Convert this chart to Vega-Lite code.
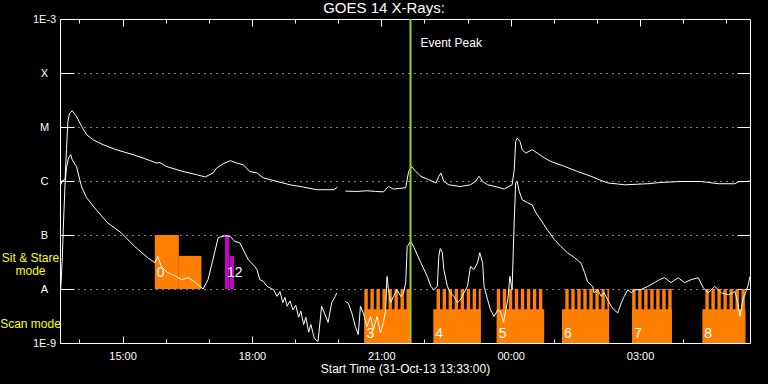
{
  "$schema": "https://vega.github.io/schema/vega-lite/v6.json",
  "width": 690,
  "height": 324,
  "autosize": "none",
  "padding": {"left": 60, "top": 19, "right": 18, "bottom": 41},
  "background": "black",
  "title": {"text": "GOES 14 X-Rays:", "color": "white", "font": "Liberation Sans", "fontSize": 15, "fontWeight": "normal", "anchor": "middle", "frame": "group", "baseline": "bottom", "dx": -21, "offset": -18},
  "config": {
    "view": {"stroke": "white", "strokeWidth": 1},
    "font": "Liberation Sans"
  },
  "resolve": {"axis": {"x": "independent", "y": "independent"}},
  "datasets": {
    "flux": [
      {"t": "2013-10-31T13:34:00Z", "f": 8.5e-7, "s": "L1"},
      {"t": "2013-10-31T13:36:00Z", "f": 1.01e-6, "s": "L1"},
      {"t": "2013-10-31T13:40:00Z", "f": 1.06e-6, "s": "L1"},
      {"t": "2013-10-31T13:42:00Z", "f": 3.8e-6, "s": "L1"},
      {"t": "2013-10-31T13:44:00Z", "f": 1.25e-5, "s": "L1"},
      {"t": "2013-10-31T13:46:00Z", "f": 1.76e-5, "s": "L1"},
      {"t": "2013-10-31T13:50:00Z", "f": 2.0e-5, "s": "L1"},
      {"t": "2013-10-31T13:56:00Z", "f": 1.57e-5, "s": "L1"},
      {"t": "2013-10-31T14:03:00Z", "f": 1.03e-5, "s": "L1"},
      {"t": "2013-10-31T14:10:00Z", "f": 7.2e-6, "s": "L1"},
      {"t": "2013-10-31T14:19:00Z", "f": 5.8e-6, "s": "L1"},
      {"t": "2013-10-31T14:33:00Z", "f": 4.7e-6, "s": "L1"},
      {"t": "2013-10-31T14:51:00Z", "f": 3.8e-6, "s": "L1"},
      {"t": "2013-10-31T15:15:00Z", "f": 3.07e-6, "s": "L1"},
      {"t": "2013-10-31T15:38:00Z", "f": 2.4e-6, "s": "L1"},
      {"t": "2013-10-31T15:47:00Z", "f": 2.15e-6, "s": "L1"},
      {"t": "2013-10-31T15:52:00Z", "f": 2.2e-6, "s": "L1"},
      {"t": "2013-10-31T16:01:00Z", "f": 1.86e-6, "s": "L1"},
      {"t": "2013-10-31T16:24:00Z", "f": 1.5e-6, "s": "L1"},
      {"t": "2013-10-31T16:43:00Z", "f": 1.31e-6, "s": "L1"},
      {"t": "2013-10-31T16:55:00Z", "f": 1.19e-6, "s": "L1"},
      {"t": "2013-10-31T17:06:00Z", "f": 1.41e-6, "s": "L1"},
      {"t": "2013-10-31T17:11:00Z", "f": 1.74e-6, "s": "L1"},
      {"t": "2013-10-31T17:20:00Z", "f": 2.09e-6, "s": "L1"},
      {"t": "2013-10-31T17:30:00Z", "f": 2.38e-6, "s": "L1"},
      {"t": "2013-10-31T17:39:00Z", "f": 2.15e-6, "s": "L1"},
      {"t": "2013-10-31T17:48:00Z", "f": 2.0e-6, "s": "L1"},
      {"t": "2013-10-31T17:57:00Z", "f": 1.5e-6, "s": "L1"},
      {"t": "2013-10-31T18:07:00Z", "f": 1.41e-6, "s": "L1"},
      {"t": "2013-10-31T18:16:00Z", "f": 1.14e-6, "s": "L1"},
      {"t": "2013-10-31T18:35:00Z", "f": 9.8e-7, "s": "L1"},
      {"t": "2013-10-31T18:53:00Z", "f": 8.5e-7, "s": "L1"},
      {"t": "2013-10-31T19:12:00Z", "f": 7.7e-7, "s": "L1"},
      {"t": "2013-10-31T19:30:00Z", "f": 6.9e-7, "s": "L1"},
      {"t": "2013-10-31T19:54:00Z", "f": 6.9e-7, "s": "L1"},
      {"t": "2013-10-31T19:59:00Z", "f": 7.7e-7, "s": "L1"},
      {"t": "2013-10-31T20:10:00Z", "f": 6.5e-7, "s": "L2"},
      {"t": "2013-10-31T20:26:00Z", "f": 6.4e-7, "s": "L2"},
      {"t": "2013-10-31T20:40:00Z", "f": 6.6e-7, "s": "L2"},
      {"t": "2013-10-31T20:52:00Z", "f": 6.4e-7, "s": "L2"},
      {"t": "2013-10-31T21:03:00Z", "f": 6.3e-7, "s": "L2"},
      {"t": "2013-10-31T21:10:00Z", "f": 7.9e-7, "s": "L2"},
      {"t": "2013-10-31T21:17:00Z", "f": 7.1e-7, "s": "L2"},
      {"t": "2013-10-31T21:34:00Z", "f": 7.5e-7, "s": "L2"},
      {"t": "2013-10-31T21:38:00Z", "f": 1.49e-6, "s": "L2"},
      {"t": "2013-10-31T21:42:00Z", "f": 1.86e-6, "s": "L2"},
      {"t": "2013-10-31T21:48:00Z", "f": 1.5e-6, "s": "L2"},
      {"t": "2013-10-31T21:55:00Z", "f": 1.22e-6, "s": "L2"},
      {"t": "2013-10-31T22:06:00Z", "f": 1.06e-6, "s": "L2"},
      {"t": "2013-10-31T22:16:00Z", "f": 9.2e-7, "s": "L2"},
      {"t": "2013-10-31T22:20:00Z", "f": 1.22e-6, "s": "L2"},
      {"t": "2013-10-31T22:23:00Z", "f": 1.41e-6, "s": "L2"},
      {"t": "2013-10-31T22:27:00Z", "f": 9.8e-7, "s": "L2"},
      {"t": "2013-10-31T22:34:00Z", "f": 8.5e-7, "s": "L2"},
      {"t": "2013-10-31T22:50:00Z", "f": 7.9e-7, "s": "L2"},
      {"t": "2013-10-31T23:04:00Z", "f": 8.5e-7, "s": "L2"},
      {"t": "2013-10-31T23:11:00Z", "f": 9.8e-7, "s": "L2"},
      {"t": "2013-10-31T23:16:00Z", "f": 1.22e-6, "s": "L2"},
      {"t": "2013-10-31T23:21:00Z", "f": 9.8e-7, "s": "L2"},
      {"t": "2013-10-31T23:28:00Z", "f": 8.5e-7, "s": "L2"},
      {"t": "2013-10-31T23:42:00Z", "f": 7.7e-7, "s": "L2"},
      {"t": "2013-10-31T23:51:00Z", "f": 7.1e-7, "s": "L2"},
      {"t": "2013-11-01T00:02:00Z", "f": 8.5e-7, "s": "L2"},
      {"t": "2013-11-01T00:05:00Z", "f": 1.62e-6, "s": "L2"},
      {"t": "2013-11-01T00:07:00Z", "f": 5.4e-6, "s": "L2"},
      {"t": "2013-11-01T00:09:00Z", "f": 6.25e-6, "s": "L2"},
      {"t": "2013-11-01T00:13:00Z", "f": 5.4e-6, "s": "L2"},
      {"t": "2013-11-01T00:16:00Z", "f": 3.8e-6, "s": "L2"},
      {"t": "2013-11-01T00:21:00Z", "f": 3.3e-6, "s": "L2"},
      {"t": "2013-11-01T00:30:00Z", "f": 3.8e-6, "s": "L2"},
      {"t": "2013-11-01T00:37:00Z", "f": 3.3e-6, "s": "L2"},
      {"t": "2013-11-01T00:47:00Z", "f": 2.67e-6, "s": "L2"},
      {"t": "2013-11-01T00:56:00Z", "f": 2.3e-6, "s": "L2"},
      {"t": "2013-11-01T01:15:00Z", "f": 1.86e-6, "s": "L2"},
      {"t": "2013-11-01T01:33:00Z", "f": 1.5e-6, "s": "L2"},
      {"t": "2013-11-01T01:52:00Z", "f": 1.22e-6, "s": "L2"},
      {"t": "2013-11-01T02:03:00Z", "f": 1.06e-6, "s": "L2"},
      {"t": "2013-11-01T02:15:00Z", "f": 9.2e-7, "s": "L2"},
      {"t": "2013-11-01T02:29:00Z", "f": 8.8e-7, "s": "L2"},
      {"t": "2013-11-01T02:38:00Z", "f": 8.5e-7, "s": "L2"},
      {"t": "2013-11-01T03:11:00Z", "f": 8.9e-7, "s": "L2"},
      {"t": "2013-11-01T03:29:00Z", "f": 9.4e-7, "s": "L2"},
      {"t": "2013-11-01T03:57:00Z", "f": 9.8e-7, "s": "L2"},
      {"t": "2013-11-01T04:25:00Z", "f": 9.8e-7, "s": "L2"},
      {"t": "2013-11-01T04:35:00Z", "f": 9.4e-7, "s": "L2"},
      {"t": "2013-11-01T04:49:00Z", "f": 8.9e-7, "s": "L2"},
      {"t": "2013-11-01T05:12:00Z", "f": 8.9e-7, "s": "L2"},
      {"t": "2013-11-01T05:17:00Z", "f": 9.7e-7, "s": "L2"},
      {"t": "2013-11-01T05:30:00Z", "f": 9.8e-7, "s": "L2"},
      {"t": "2013-11-01T05:33:00Z", "f": 1.0e-6, "s": "L2"},
      {"t": "2013-10-31T13:34:00Z", "f": 1.0e-8, "s": "S1"},
      {"t": "2013-10-31T13:36:00Z", "f": 3.2e-8, "s": "S1"},
      {"t": "2013-10-31T13:38:00Z", "f": 1.9e-7, "s": "S1"},
      {"t": "2013-10-31T13:40:00Z", "f": 8.5e-7, "s": "S1"},
      {"t": "2013-10-31T13:42:00Z", "f": 1.76e-6, "s": "S1"},
      {"t": "2013-10-31T13:45:00Z", "f": 2.7e-6, "s": "S1"},
      {"t": "2013-10-31T13:48:00Z", "f": 3.07e-6, "s": "S1"},
      {"t": "2013-10-31T13:50:00Z", "f": 2.48e-6, "s": "S1"},
      {"t": "2013-10-31T13:56:00Z", "f": 1.84e-6, "s": "S1"},
      {"t": "2013-10-31T14:03:00Z", "f": 7.8e-7, "s": "S1"},
      {"t": "2013-10-31T14:10:00Z", "f": 4.9e-7, "s": "S1"},
      {"t": "2013-10-31T14:21:00Z", "f": 3.2e-7, "s": "S1"},
      {"t": "2013-10-31T14:39:00Z", "f": 1.69e-7, "s": "S1"},
      {"t": "2013-10-31T14:58:00Z", "f": 1.1e-7, "s": "S1"},
      {"t": "2013-10-31T15:17:00Z", "f": 6.1e-8, "s": "S1"},
      {"t": "2013-10-31T15:35:00Z", "f": 3.8e-8, "s": "S1"},
      {"t": "2013-10-31T15:45:00Z", "f": 3.07e-8, "s": "S1"},
      {"t": "2013-10-31T15:49:00Z", "f": 4.0e-8, "s": "S1"},
      {"t": "2013-10-31T15:54:00Z", "f": 2.6e-8, "s": "S1"},
      {"t": "2013-10-31T16:03:00Z", "f": 2.0e-8, "s": "S1"},
      {"t": "2013-10-31T16:13:00Z", "f": 1.76e-8, "s": "S1"},
      {"t": "2013-10-31T16:22:00Z", "f": 1.49e-8, "s": "S1"},
      {"t": "2013-10-31T16:31:00Z", "f": 1.62e-8, "s": "S1"},
      {"t": "2013-10-31T16:38:00Z", "f": 1.42e-8, "s": "S1"},
      {"t": "2013-10-31T16:48:00Z", "f": 1.12e-8, "s": "S1"},
      {"t": "2013-10-31T16:52:00Z", "f": 1.0e-8, "s": "S1"},
      {"t": "2013-10-31T16:59:00Z", "f": 1.49e-8, "s": "S1"},
      {"t": "2013-10-31T17:09:00Z", "f": 5.3e-8, "s": "S1"},
      {"t": "2013-10-31T17:13:00Z", "f": 8.9e-8, "s": "S1"},
      {"t": "2013-10-31T17:23:00Z", "f": 9.7e-8, "s": "S1"},
      {"t": "2013-10-31T17:30:00Z", "f": 9.4e-8, "s": "S1"},
      {"t": "2013-10-31T17:36:00Z", "f": 7.6e-8, "s": "S1"},
      {"t": "2013-10-31T17:43:00Z", "f": 7.2e-8, "s": "S1"},
      {"t": "2013-10-31T17:55:00Z", "f": 3.5e-8, "s": "S1"},
      {"t": "2013-10-31T18:04:00Z", "f": 2.6e-8, "s": "S1"},
      {"t": "2013-10-31T18:07:00Z", "f": 2.3e-8, "s": "S1"},
      {"t": "2013-10-31T18:11:00Z", "f": 1.49e-8, "s": "S1"},
      {"t": "2013-10-31T18:16:00Z", "f": 1.38e-8, "s": "S1"},
      {"t": "2013-10-31T18:21:00Z", "f": 1.12e-8, "s": "S1"},
      {"t": "2013-10-31T18:30:00Z", "f": 9.7e-9, "s": "S1"},
      {"t": "2013-10-31T18:35:00Z", "f": 7.3e-9, "s": "S1"},
      {"t": "2013-10-31T18:39:00Z", "f": 9.0e-9, "s": "S1"},
      {"t": "2013-10-31T18:43:00Z", "f": 5.6e-9, "s": "S1"},
      {"t": "2013-10-31T18:46:00Z", "f": 7.0e-9, "s": "S1"},
      {"t": "2013-10-31T18:49:00Z", "f": 4.8e-9, "s": "S1"},
      {"t": "2013-10-31T18:53:00Z", "f": 6.0e-9, "s": "S1"},
      {"t": "2013-10-31T18:57:00Z", "f": 4.1e-9, "s": "S1"},
      {"t": "2013-10-31T19:01:00Z", "f": 5.0e-9, "s": "S1"},
      {"t": "2013-10-31T19:05:00Z", "f": 3.0e-9, "s": "S1"},
      {"t": "2013-10-31T19:08:00Z", "f": 3.9e-9, "s": "S1"},
      {"t": "2013-10-31T19:12:00Z", "f": 2.2e-9, "s": "S1"},
      {"t": "2013-10-31T19:15:00Z", "f": 3.0e-9, "s": "S1"},
      {"t": "2013-10-31T19:19:00Z", "f": 1.6e-9, "s": "S1"},
      {"t": "2013-10-31T19:22:00Z", "f": 2.2e-9, "s": "S1"},
      {"t": "2013-10-31T19:27:00Z", "f": 1.2e-9, "s": "S1"},
      {"t": "2013-10-31T19:32:00Z", "f": 1.07e-9, "s": "S1"},
      {"t": "2013-10-31T19:37:00Z", "f": 4.8e-9, "s": "S1"},
      {"t": "2013-10-31T19:42:00Z", "f": 3.3e-9, "s": "S1"},
      {"t": "2013-10-31T19:46:00Z", "f": 2.4e-9, "s": "S1"},
      {"t": "2013-10-31T19:51:00Z", "f": 5.6e-9, "s": "S1"},
      {"t": "2013-10-31T19:56:00Z", "f": 7.3e-9, "s": "S1"},
      {"t": "2013-10-31T19:58:00Z", "f": 8.5e-9, "s": "S1"},
      {"t": "2013-10-31T20:10:00Z", "f": 5.9e-9, "s": "S2"},
      {"t": "2013-10-31T20:14:00Z", "f": 5.5e-9, "s": "S2"},
      {"t": "2013-10-31T20:19:00Z", "f": 3.6e-9, "s": "S2"},
      {"t": "2013-10-31T20:24:00Z", "f": 2.0e-9, "s": "S2"},
      {"t": "2013-10-31T20:28:00Z", "f": 1.43e-9, "s": "S2"},
      {"t": "2013-10-31T20:31:00Z", "f": 4.8e-9, "s": "S2"},
      {"t": "2013-10-31T20:35:00Z", "f": 3.6e-9, "s": "S2"},
      {"t": "2013-10-31T20:40:00Z", "f": 2.0e-9, "s": "S2"},
      {"t": "2013-10-31T20:45:00Z", "f": 3.1e-9, "s": "S2"},
      {"t": "2013-10-31T20:49:00Z", "f": 1.76e-9, "s": "S2"},
      {"t": "2013-10-31T20:54:00Z", "f": 3.1e-9, "s": "S2"},
      {"t": "2013-10-31T20:59:00Z", "f": 1.53e-9, "s": "S2"},
      {"t": "2013-10-31T21:03:00Z", "f": 2.4e-9, "s": "S2"},
      {"t": "2013-10-31T21:06:00Z", "f": 4.1e-9, "s": "S2"},
      {"t": "2013-10-31T21:08:00Z", "f": 1.71e-8, "s": "S2"},
      {"t": "2013-10-31T21:10:00Z", "f": 9.7e-9, "s": "S2"},
      {"t": "2013-10-31T21:13:00Z", "f": 5.6e-9, "s": "S2"},
      {"t": "2013-10-31T21:17:00Z", "f": 7.3e-9, "s": "S2"},
      {"t": "2013-10-31T21:22:00Z", "f": 9.7e-9, "s": "S2"},
      {"t": "2013-10-31T21:27:00Z", "f": 7.3e-9, "s": "S2"},
      {"t": "2013-10-31T21:31:00Z", "f": 8.4e-9, "s": "S2"},
      {"t": "2013-10-31T21:34:00Z", "f": 1.31e-8, "s": "S2"},
      {"t": "2013-10-31T21:36:00Z", "f": 6.1e-8, "s": "S2"},
      {"t": "2013-10-31T21:41:00Z", "f": 7.6e-8, "s": "S2"},
      {"t": "2013-10-31T21:45:00Z", "f": 6.1e-8, "s": "S2"},
      {"t": "2013-10-31T21:50:00Z", "f": 4.3e-8, "s": "S2"},
      {"t": "2013-10-31T21:55:00Z", "f": 3.07e-8, "s": "S2"},
      {"t": "2013-10-31T22:04:00Z", "f": 1.71e-8, "s": "S2"},
      {"t": "2013-10-31T22:09:00Z", "f": 1.12e-8, "s": "S2"},
      {"t": "2013-10-31T22:13:00Z", "f": 9.7e-9, "s": "S2"},
      {"t": "2013-10-31T22:18:00Z", "f": 1.12e-8, "s": "S2"},
      {"t": "2013-10-31T22:20:00Z", "f": 4.0e-8, "s": "S2"},
      {"t": "2013-10-31T22:22:00Z", "f": 5.6e-8, "s": "S2"},
      {"t": "2013-10-31T22:25:00Z", "f": 4.7e-8, "s": "S2"},
      {"t": "2013-10-31T22:27:00Z", "f": 2.3e-8, "s": "S2"},
      {"t": "2013-10-31T22:32:00Z", "f": 1.12e-8, "s": "S2"},
      {"t": "2013-10-31T22:36:00Z", "f": 8.5e-9, "s": "S2"},
      {"t": "2013-10-31T22:41:00Z", "f": 7.3e-9, "s": "S2"},
      {"t": "2013-10-31T22:46:00Z", "f": 5.6e-9, "s": "S2"},
      {"t": "2013-10-31T22:50:00Z", "f": 6.3e-9, "s": "S2"},
      {"t": "2013-10-31T22:55:00Z", "f": 8.5e-9, "s": "S2"},
      {"t": "2013-10-31T23:00:00Z", "f": 1.12e-8, "s": "S2"},
      {"t": "2013-10-31T23:04:00Z", "f": 2.6e-8, "s": "S2"},
      {"t": "2013-10-31T23:09:00Z", "f": 2.3e-8, "s": "S2"},
      {"t": "2013-10-31T23:14:00Z", "f": 3.07e-8, "s": "S2"},
      {"t": "2013-10-31T23:17:00Z", "f": 4.7e-8, "s": "S2"},
      {"t": "2013-10-31T23:21:00Z", "f": 3.07e-8, "s": "S2"},
      {"t": "2013-10-31T23:23:00Z", "f": 1.12e-8, "s": "S2"},
      {"t": "2013-10-31T23:28:00Z", "f": 6.3e-9, "s": "S2"},
      {"t": "2013-10-31T23:32:00Z", "f": 4.1e-9, "s": "S2"},
      {"t": "2013-10-31T23:37:00Z", "f": 3.1e-9, "s": "S2"},
      {"t": "2013-10-31T23:42:00Z", "f": 4.1e-9, "s": "S2"},
      {"t": "2013-10-31T23:46:00Z", "f": 3.8e-9, "s": "S2"},
      {"t": "2013-10-31T23:50:00Z", "f": 2.4e-9, "s": "S2"},
      {"t": "2013-10-31T23:56:00Z", "f": 6.3e-9, "s": "S2"},
      {"t": "2013-10-31T23:59:00Z", "f": 1.71e-8, "s": "S2"},
      {"t": "2013-11-01T00:02:00Z", "f": 9.7e-9, "s": "S2"},
      {"t": "2013-11-01T00:05:00Z", "f": 1.9e-7, "s": "S2"},
      {"t": "2013-11-01T00:07:00Z", "f": 9.3e-7, "s": "S2"},
      {"t": "2013-11-01T00:09:00Z", "f": 9.8e-7, "s": "S2"},
      {"t": "2013-11-01T00:12:00Z", "f": 6.4e-7, "s": "S2"},
      {"t": "2013-11-01T00:16:00Z", "f": 4.5e-7, "s": "S2"},
      {"t": "2013-11-01T00:23:00Z", "f": 4.0e-7, "s": "S2"},
      {"t": "2013-11-01T00:30:00Z", "f": 3.6e-7, "s": "S2"},
      {"t": "2013-11-01T00:35:00Z", "f": 2.6e-7, "s": "S2"},
      {"t": "2013-11-01T00:42:00Z", "f": 1.9e-7, "s": "S2"},
      {"t": "2013-11-01T00:51:00Z", "f": 1.25e-7, "s": "S2"},
      {"t": "2013-11-01T01:01:00Z", "f": 8.2e-8, "s": "S2"},
      {"t": "2013-11-01T01:10:00Z", "f": 6.1e-8, "s": "S2"},
      {"t": "2013-11-01T01:19:00Z", "f": 4.7e-8, "s": "S2"},
      {"t": "2013-11-01T01:29:00Z", "f": 3.8e-8, "s": "S2"},
      {"t": "2013-11-01T01:38:00Z", "f": 3.0e-8, "s": "S2"},
      {"t": "2013-11-01T01:43:00Z", "f": 2.0e-8, "s": "S2"},
      {"t": "2013-11-01T01:47:00Z", "f": 1.36e-8, "s": "S2"},
      {"t": "2013-11-01T01:54:00Z", "f": 1.12e-8, "s": "S2"},
      {"t": "2013-11-01T01:56:00Z", "f": 8.5e-9, "s": "S2"},
      {"t": "2013-11-01T02:01:00Z", "f": 9.7e-9, "s": "S2"},
      {"t": "2013-11-01T02:06:00Z", "f": 7.3e-9, "s": "S2"},
      {"t": "2013-11-01T02:10:00Z", "f": 8.5e-9, "s": "S2"},
      {"t": "2013-11-01T02:15:00Z", "f": 6.3e-9, "s": "S2"},
      {"t": "2013-11-01T02:20:00Z", "f": 4.8e-9, "s": "S2"},
      {"t": "2013-11-01T02:24:00Z", "f": 4.1e-9, "s": "S2"},
      {"t": "2013-11-01T02:29:00Z", "f": 3.6e-9, "s": "S2"},
      {"t": "2013-11-01T02:34:00Z", "f": 5.6e-9, "s": "S2"},
      {"t": "2013-11-01T02:38:00Z", "f": 7.3e-9, "s": "S2"},
      {"t": "2013-11-01T02:43:00Z", "f": 9.7e-9, "s": "S2"},
      {"t": "2013-11-01T02:48:00Z", "f": 8.5e-9, "s": "S2"},
      {"t": "2013-11-01T02:52:00Z", "f": 9.7e-9, "s": "S2"},
      {"t": "2013-11-01T03:01:00Z", "f": 9.7e-9, "s": "S2"},
      {"t": "2013-11-01T03:11:00Z", "f": 1.12e-8, "s": "S2"},
      {"t": "2013-11-01T03:20:00Z", "f": 1.31e-8, "s": "S2"},
      {"t": "2013-11-01T03:27:00Z", "f": 1.49e-8, "s": "S2"},
      {"t": "2013-11-01T03:34:00Z", "f": 1.62e-8, "s": "S2"},
      {"t": "2013-11-01T03:43:00Z", "f": 1.31e-8, "s": "S2"},
      {"t": "2013-11-01T03:53:00Z", "f": 1.62e-8, "s": "S2"},
      {"t": "2013-11-01T04:02:00Z", "f": 1.31e-8, "s": "S2"},
      {"t": "2013-11-01T04:11:00Z", "f": 1.49e-8, "s": "S2"},
      {"t": "2013-11-01T04:21:00Z", "f": 1.62e-8, "s": "S2"},
      {"t": "2013-11-01T04:28:00Z", "f": 1.05e-8, "s": "S2"},
      {"t": "2013-11-01T04:35:00Z", "f": 8.5e-9, "s": "S2"},
      {"t": "2013-11-01T04:44:00Z", "f": 1.12e-8, "s": "S2"},
      {"t": "2013-11-01T04:53:00Z", "f": 8.5e-9, "s": "S2"},
      {"t": "2013-11-01T05:03:00Z", "f": 7.8e-9, "s": "S2"},
      {"t": "2013-11-01T05:12:00Z", "f": 9.0e-9, "s": "S2"},
      {"t": "2013-11-01T05:16:00Z", "f": 5.6e-9, "s": "S2"},
      {"t": "2013-11-01T05:19:00Z", "f": 3.1e-9, "s": "S2"},
      {"t": "2013-11-01T05:23:00Z", "f": 6.3e-9, "s": "S2"},
      {"t": "2013-11-01T05:30:00Z", "f": 1.12e-8, "s": "S2"},
      {"t": "2013-11-01T05:33:00Z", "f": 1.71e-8, "s": "S2"}
    ],
    "scanBlocks": [
      {"start": "2013-10-31T20:36:29Z", "end": "2013-10-31T21:39:42Z", "n": "3"},
      {"start": "2013-10-31T22:12:21Z", "end": "2013-10-31T23:18:21Z", "n": "4"},
      {"start": "2013-10-31T23:40:40Z", "end": "2013-11-01T00:46:41Z", "n": "5"},
      {"start": "2013-11-01T01:11:22Z", "end": "2013-11-01T02:16:57Z", "n": "6"},
      {"start": "2013-11-01T02:49:03Z", "end": "2013-11-01T03:44:26Z", "n": "7"},
      {"start": "2013-11-01T04:26:43Z", "end": "2013-11-01T05:26:43Z", "n": "8"}
    ],
    "scanStripes": [
      {"start": "2013-10-31T20:36:29Z", "end": "2013-10-31T20:41:14Z"},
      {"start": "2013-10-31T20:44:52Z", "end": "2013-10-31T20:49:36Z"},
      {"start": "2013-10-31T20:53:14Z", "end": "2013-10-31T20:57:58Z"},
      {"start": "2013-10-31T21:01:37Z", "end": "2013-10-31T21:06:21Z"},
      {"start": "2013-10-31T21:09:59Z", "end": "2013-10-31T21:14:43Z"},
      {"start": "2013-10-31T21:18:21Z", "end": "2013-10-31T21:23:05Z"},
      {"start": "2013-10-31T21:26:43Z", "end": "2013-10-31T21:31:28Z"},
      {"start": "2013-10-31T21:35:05Z", "end": "2013-10-31T21:39:42Z"},
      {"start": "2013-10-31T22:16:57Z", "end": "2013-10-31T22:21:41Z"},
      {"start": "2013-10-31T22:25:19Z", "end": "2013-10-31T22:30:04Z"},
      {"start": "2013-10-31T22:33:41Z", "end": "2013-10-31T22:38:26Z"},
      {"start": "2013-10-31T22:42:04Z", "end": "2013-10-31T22:46:49Z"},
      {"start": "2013-10-31T22:50:26Z", "end": "2013-10-31T22:55:11Z"},
      {"start": "2013-10-31T22:58:49Z", "end": "2013-10-31T23:03:33Z"},
      {"start": "2013-10-31T23:07:11Z", "end": "2013-10-31T23:11:55Z"},
      {"start": "2013-10-31T23:15:33Z", "end": "2013-10-31T23:18:21Z"},
      {"start": "2013-10-31T23:40:40Z", "end": "2013-10-31T23:45:25Z"},
      {"start": "2013-10-31T23:49:02Z", "end": "2013-10-31T23:53:47Z"},
      {"start": "2013-10-31T23:57:25Z", "end": "2013-11-01T00:02:09Z"},
      {"start": "2013-11-01T00:05:47Z", "end": "2013-11-01T00:10:32Z"},
      {"start": "2013-11-01T00:14:10Z", "end": "2013-11-01T00:18:54Z"},
      {"start": "2013-11-01T00:22:32Z", "end": "2013-11-01T00:27:16Z"},
      {"start": "2013-11-01T00:30:54Z", "end": "2013-11-01T00:35:38Z"},
      {"start": "2013-11-01T00:39:16Z", "end": "2013-11-01T00:44:01Z"},
      {"start": "2013-11-01T01:15:59Z", "end": "2013-11-01T01:20:43Z"},
      {"start": "2013-11-01T01:24:21Z", "end": "2013-11-01T01:29:05Z"},
      {"start": "2013-11-01T01:32:43Z", "end": "2013-11-01T01:37:28Z"},
      {"start": "2013-11-01T01:41:06Z", "end": "2013-11-01T01:45:50Z"},
      {"start": "2013-11-01T01:49:28Z", "end": "2013-11-01T01:54:13Z"},
      {"start": "2013-11-01T01:57:50Z", "end": "2013-11-01T02:02:35Z"},
      {"start": "2013-11-01T02:06:13Z", "end": "2013-11-01T02:10:57Z"},
      {"start": "2013-11-01T02:14:35Z", "end": "2013-11-01T02:16:57Z"},
      {"start": "2013-11-01T02:49:03Z", "end": "2013-11-01T02:53:47Z"},
      {"start": "2013-11-01T02:57:25Z", "end": "2013-11-01T03:02:10Z"},
      {"start": "2013-11-01T03:05:47Z", "end": "2013-11-01T03:10:32Z"},
      {"start": "2013-11-01T03:14:10Z", "end": "2013-11-01T03:18:55Z"},
      {"start": "2013-11-01T03:22:32Z", "end": "2013-11-01T03:27:17Z"},
      {"start": "2013-11-01T03:30:55Z", "end": "2013-11-01T03:35:39Z"},
      {"start": "2013-11-01T03:39:17Z", "end": "2013-11-01T03:44:01Z"},
      {"start": "2013-11-01T04:30:55Z", "end": "2013-11-01T04:35:39Z"},
      {"start": "2013-11-01T04:39:17Z", "end": "2013-11-01T04:44:01Z"},
      {"start": "2013-11-01T04:47:39Z", "end": "2013-11-01T04:52:23Z"},
      {"start": "2013-11-01T04:56:02Z", "end": "2013-11-01T05:00:46Z"},
      {"start": "2013-11-01T05:04:24Z", "end": "2013-11-01T05:09:08Z"},
      {"start": "2013-11-01T05:12:46Z", "end": "2013-11-01T05:17:31Z"},
      {"start": "2013-11-01T05:21:08Z", "end": "2013-11-01T05:25:53Z"}
    ],
    "sitOrange": [
      {"start": "2013-10-31T15:44:52Z", "end": "2013-10-31T16:18:21Z", "top": 1e-7},
      {"start": "2013-10-31T16:18:21Z", "end": "2013-10-31T16:49:45Z", "top": 4.1e-8}
    ],
    "sitMagenta": [
      {"start": "2013-10-31T17:22:32Z", "end": "2013-10-31T17:28:07Z", "top": 1e-7},
      {"start": "2013-10-31T17:29:31Z", "end": "2013-10-31T17:35:05Z", "top": 4.1e-8}
    ],
    "sitLabels": [
      {"start": "2013-10-31T15:44:52Z", "n": "0"},
      {"start": "2013-10-31T17:22:32Z", "n": "12"}
    ],
    "event": [
      {"t": "2013-10-31T21:40:40Z", "label": "Event Peak"}
    ]
  },
  "layer": [
    {
      "data": {"name": "scanBlocks"},
      "mark": {"type": "rect", "color": "#ff8000"},
      "encoding": {
        "x": {
          "field": "start", "type": "temporal",
          "scale": {"type": "utc", "nice": false, "domain": [{"year": 2013, "month": 10, "date": 31, "hours": 13, "minutes": 33, "utc": true}, {"year": 2013, "month": 11, "date": 1, "hours": 5, "minutes": 33, "utc": true}]},
          "axis": {
            "orient": "bottom",
            "offset": 0,
            "values": [
              {"year": 2013, "month": 10, "date": 31, "hours": 15, "utc": true},
              {"year": 2013, "month": 10, "date": 31, "hours": 18, "utc": true},
              {"year": 2013, "month": 10, "date": 31, "hours": 21, "utc": true},
              {"year": 2013, "month": 11, "date": 1, "hours": 0, "utc": true},
              {"year": 2013, "month": 11, "date": 1, "hours": 3, "utc": true}
            ],
            "format": "%H:%M",
            "tickSize": -7,
            "tickColor": "white",
            "labelColor": "white",
            "labelFont": "Liberation Sans",
            "labelFontSize": 11,
            "labelPadding": 14,
            "labelFlush": false,
            "labelOverlap": false,
            "domain": false,
            "grid": false,
            "title": "Start Time (31-Oct-13 13:33:00)",
            "titleColor": "white",
            "titleFont": "Liberation Sans",
            "titleFontSize": 12,
            "titleFontWeight": "normal",
            "titlePadding": 2
          }
        },
        "x2": {"field": "end"},
        "y": {
          "datum": 1e-9, "type": "quantitative",
          "scale": {"type": "log", "domain": [1e-9, 1e-3], "nice": false},
          "axis": {
            "orient": "left",
            "offset": 0,
            "values": [1e-9, 1e-8, 1e-7, 1e-6, 1e-5, 1e-4, 1e-3],
            "labelExpr": "datum.value > 9e-4 ? '1E-3' : datum.value > 9e-5 ? 'X' : datum.value > 9e-6 ? 'M' : datum.value > 9e-7 ? 'C' : datum.value > 9e-8 ? 'B' : datum.value > 9e-9 ? 'A' : '1E-9'",
            "labelAlign": "center",
            "labelFont": "Liberation Sans",
            "labelFontSize": 11,
            "labelColor": "white",
            "labelOverlap": false,
            "labelFlush": false,
            "labelPadding": 30,
            "tickSize": -14,
            "tickColor": "white",
            "grid": true,
            "gridColor": "white",
            "gridDash": [1, 5],
            "domain": false,
            "title": null
          }
        },
        "y2": {"datum": 4.2e-9}
      }
    },
    {
      "data": {"name": "scanStripes"},
      "mark": {"type": "rect", "color": "#ff8000"},
      "encoding": {
        "x": {
          "field": "start", "type": "temporal",
          "axis": {
            "orient": "top",
            "offset": 0,
            "values": [
              {"year": 2013, "month": 10, "date": 31, "hours": 15, "utc": true},
              {"year": 2013, "month": 10, "date": 31, "hours": 18, "utc": true},
              {"year": 2013, "month": 10, "date": 31, "hours": 21, "utc": true},
              {"year": 2013, "month": 11, "date": 1, "hours": 0, "utc": true},
              {"year": 2013, "month": 11, "date": 1, "hours": 3, "utc": true}
            ],
            "labels": false,
            "tickSize": -7,
            "tickColor": "white",
            "domain": false,
            "grid": false,
            "title": null
          }
        },
        "x2": {"field": "end"},
        "y": {
          "datum": 1e-9, "type": "quantitative",
          "axis": {
            "orient": "right",
            "offset": 0,
            "values": [1e-8, 1e-7, 1e-6, 1e-5, 1e-4],
            "labels": false,
            "tickSize": -13,
            "tickColor": "white",
            "domain": false,
            "grid": false,
            "title": null
          }
        },
        "y2": {"datum": 1e-8}
      }
    },
    {
      "data": {"name": "sitOrange"},
      "mark": {"type": "rect", "color": "#ff8000"},
      "encoding": {
        "x": {
          "field": "start", "type": "temporal",
          "axis": {
            "orient": "bottom",
            "offset": 0,
            "values": [
              {"year": 2013, "month": 10, "date": 31, "hours": 14, "utc": true},
              {"year": 2013, "month": 10, "date": 31, "hours": 16, "utc": true},
              {"year": 2013, "month": 10, "date": 31, "hours": 17, "utc": true},
              {"year": 2013, "month": 10, "date": 31, "hours": 19, "utc": true},
              {"year": 2013, "month": 10, "date": 31, "hours": 20, "utc": true},
              {"year": 2013, "month": 10, "date": 31, "hours": 22, "utc": true},
              {"year": 2013, "month": 10, "date": 31, "hours": 23, "utc": true},
              {"year": 2013, "month": 11, "date": 1, "hours": 1, "utc": true},
              {"year": 2013, "month": 11, "date": 1, "hours": 2, "utc": true},
              {"year": 2013, "month": 11, "date": 1, "hours": 4, "utc": true},
              {"year": 2013, "month": 11, "date": 1, "hours": 5, "utc": true}
            ],
            "labels": false,
            "tickSize": -4,
            "tickColor": "white",
            "domain": false,
            "grid": false,
            "title": null
          }
        },
        "x2": {"field": "end"},
        "y": {
          "field": "top", "type": "quantitative",
          "axis": {
            "orient": "left",
            "offset": 0,
            "values": [2.33e-9, 3.8e-8],
            "labelExpr": "datum.value > 1e-8 ? ['Sit & Stare', 'mode'] : 'Scan mode'",
            "labelAlign": "center",
            "labelBaseline": "middle",
            "labelLineHeight": 13,
            "labelFont": "Liberation Sans",
            "labelFontSize": 12,
            "labelColor": "#ffff00",
            "labelOverlap": false,
            "labelFlush": false,
            "labelPadding": 30,
            "ticks": false,
            "domain": false,
            "grid": false,
            "title": null
          }
        },
        "y2": {"datum": 1e-8}
      }
    },
    {
      "data": {"name": "sitMagenta"},
      "mark": {"type": "rect", "color": "#cc00cc"},
      "encoding": {
        "x": {
          "field": "start", "type": "temporal",
          "axis": {
            "orient": "top",
            "offset": 0,
            "values": [
              {"year": 2013, "month": 10, "date": 31, "hours": 14, "utc": true},
              {"year": 2013, "month": 10, "date": 31, "hours": 16, "utc": true},
              {"year": 2013, "month": 10, "date": 31, "hours": 17, "utc": true},
              {"year": 2013, "month": 10, "date": 31, "hours": 19, "utc": true},
              {"year": 2013, "month": 10, "date": 31, "hours": 20, "utc": true},
              {"year": 2013, "month": 10, "date": 31, "hours": 22, "utc": true},
              {"year": 2013, "month": 10, "date": 31, "hours": 23, "utc": true},
              {"year": 2013, "month": 11, "date": 1, "hours": 1, "utc": true},
              {"year": 2013, "month": 11, "date": 1, "hours": 2, "utc": true},
              {"year": 2013, "month": 11, "date": 1, "hours": 4, "utc": true},
              {"year": 2013, "month": 11, "date": 1, "hours": 5, "utc": true}
            ],
            "labels": false,
            "tickSize": -4,
            "tickColor": "white",
            "domain": false,
            "grid": false,
            "title": null
          }
        },
        "x2": {"field": "end"},
        "y": {"field": "top", "type": "quantitative", "axis": null},
        "y2": {"datum": 1e-8}
      }
    },
    {
      "data": {"name": "flux"},
      "mark": {"type": "line", "color": "white", "strokeWidth": 1},
      "encoding": {
        "x": {"field": "t", "type": "temporal", "axis": null},
        "y": {"field": "f", "type": "quantitative", "axis": null},
        "detail": {"field": "s", "type": "nominal"}
      }
    },
    {
      "data": {"name": "scanBlocks"},
      "mark": {"type": "text", "color": "white", "font": "Liberation Sans", "fontSize": 14, "align": "left", "baseline": "alphabetic", "dx": 2, "dy": -5},
      "encoding": {
        "x": {"field": "start", "type": "temporal", "axis": null},
        "y": {"datum": 1e-9, "type": "quantitative", "axis": null},
        "text": {"field": "n", "type": "nominal"}
      }
    },
    {
      "data": {"name": "sitLabels"},
      "mark": {"type": "text", "color": "white", "font": "Liberation Sans", "fontSize": 14, "align": "left", "baseline": "alphabetic", "dx": 2, "dy": -12},
      "encoding": {
        "x": {"field": "start", "type": "temporal", "axis": null},
        "y": {"datum": 1e-8, "type": "quantitative", "axis": null},
        "text": {"field": "n", "type": "nominal"}
      }
    },
    {
      "data": {"name": "event"},
      "mark": {"type": "rule", "color": "#9acd32", "strokeWidth": 2},
      "encoding": {
        "x": {"field": "t", "type": "temporal", "axis": null}
      }
    },
    {
      "data": {"name": "event"},
      "mark": {"type": "text", "color": "white", "font": "Liberation Sans", "fontSize": 12, "align": "left", "baseline": "alphabetic", "dx": 10, "dy": 28},
      "encoding": {
        "x": {"field": "t", "type": "temporal", "axis": null},
        "y": {"datum": 1e-3, "type": "quantitative", "axis": null},
        "text": {"field": "label", "type": "nominal"}
      }
    }
  ]
}
